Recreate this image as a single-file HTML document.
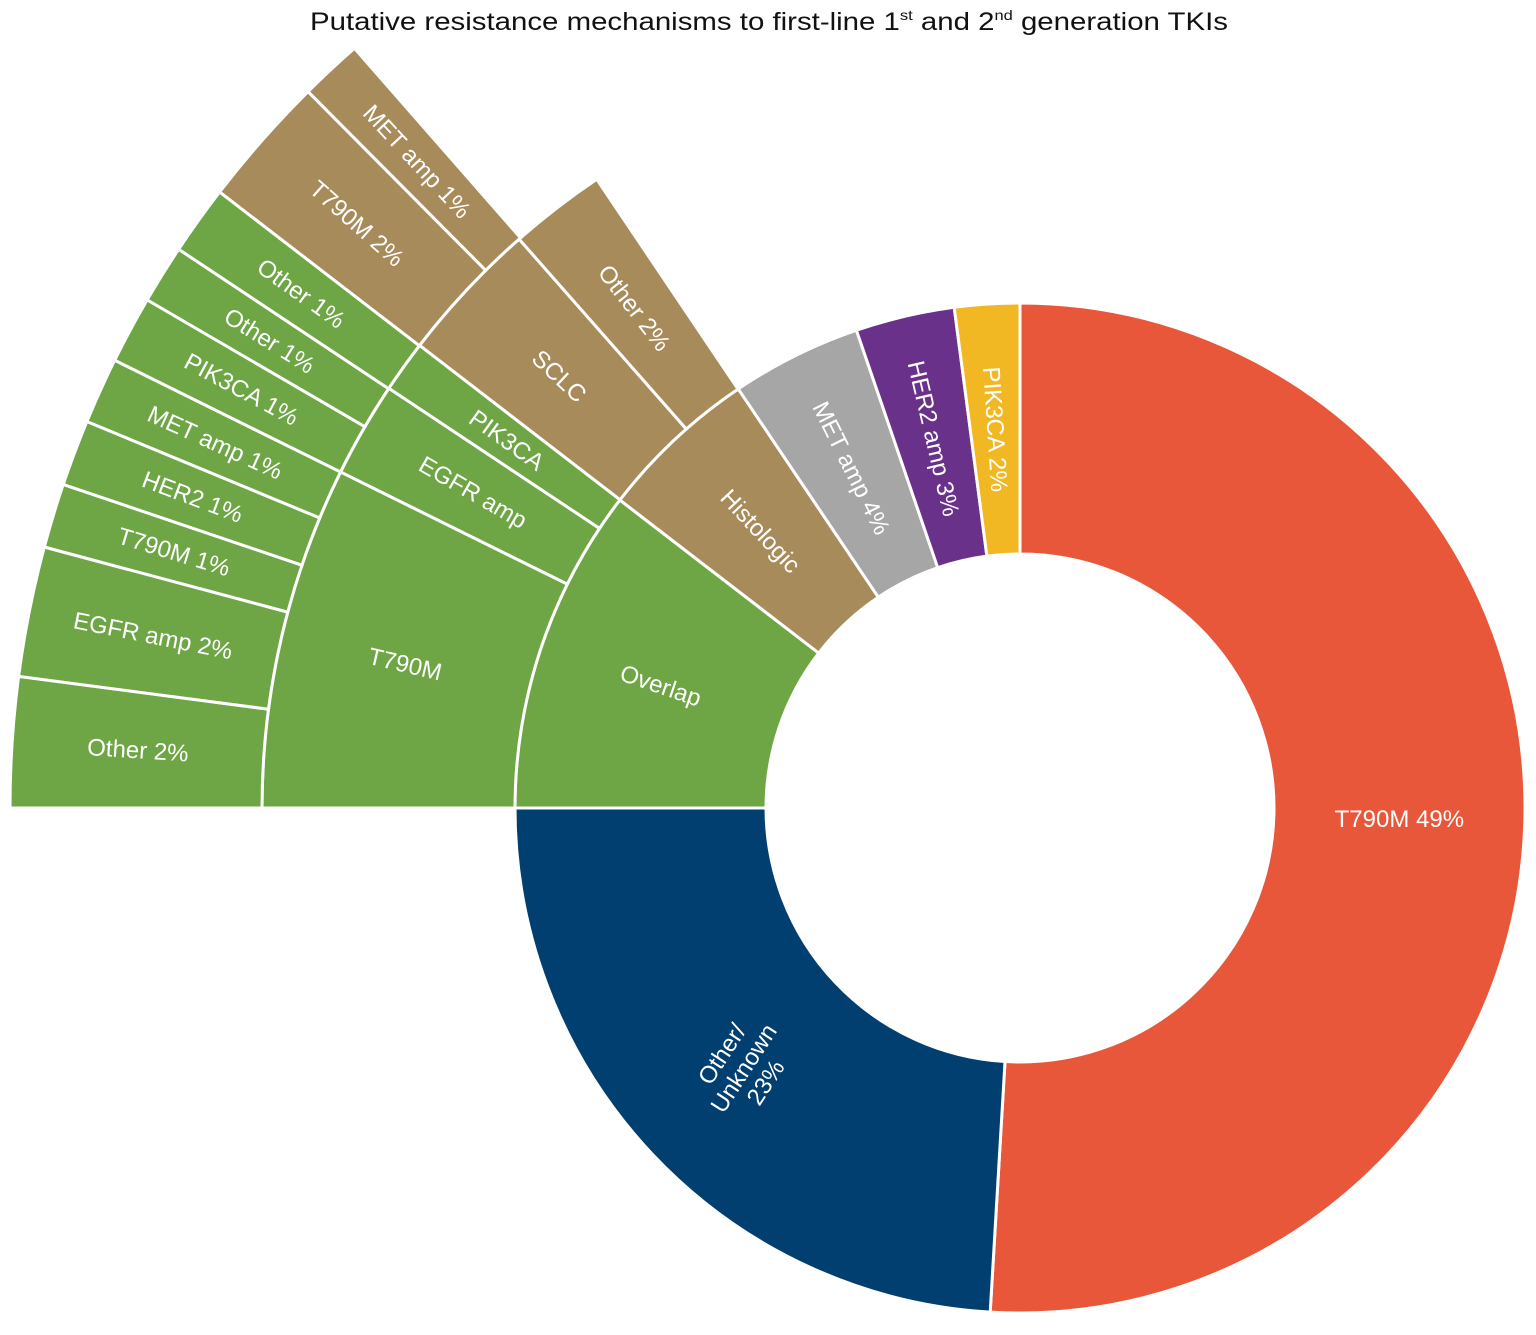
<!DOCTYPE html>
<html><head><meta charset="utf-8"><style>
html,body{margin:0;padding:0;background:#fff}
svg{display:block}
text{font-family:"Liberation Sans",sans-serif}
</style></head><body>
<svg id="chart" width="1536" height="1335" viewBox="0 0 1536 1335" xmlns="http://www.w3.org/2000/svg">
<text x="310" y="30" font-size="25" fill="#111" textLength="918" lengthAdjust="spacingAndGlyphs">Putative resistance mechanisms to first-line 1<tspan font-size="14" dy="-10">st</tspan><tspan dy="10"> and 2</tspan><tspan font-size="14" dy="-10">nd</tspan><tspan dy="10"> generation TKIs</tspan></text>
<g id="arcs"></g><g id="labels"></g>
</svg>
<script>
// Main ring (shares of full circle, %), clockwise from top
const mainNames = ["T790M 49%","Other/Unknown 23%","Overlap","Histologic","MET amp 4%","HER2 amp 3%","PIK3CA 2%"];
const mainValues = [50.94,24.06,10.44,5.14,4.17,3.17,2.08];
const mainColors = ["#E8573A","#003F6F","#6EA545","#A88B5A","#A6A6A6","#6A318B","#F2B824"];
// Second ring (shares %, starting at 270°)
const ring2Names = ["T790M","EGFR amp","PIK3CA","SCLC","Other 2%"];
const ring2Values = [7.31,2.03,1.11,3.06,2.06];
const ring2Colors = ["#6EA545","#6EA545","#6EA545","#A88B5A","#A88B5A"];
// Third ring (shares %, starting at 270°)
const ring3Names = ["Other 2%","EGFR amp 2%","T790M 1%","HER2 1%","MET amp 1%","PIK3CA 1%","Other 1%","Other 1%","T790M 2%","MET amp 1%"];
const ring3Values = [2.08,2.08,1.03,1.06,1.06,1.08,0.94,1.11,2.11,1.0];
const ring3Colors = ["#6EA545","#6EA545","#6EA545","#6EA545","#6EA545","#6EA545","#6EA545","#6EA545","#A88B5A","#A88B5A"];

const CX=1020, CY=808, R=[254,505,758,1010];
const NS="http://www.w3.org/2000/svg";
const arcs=document.getElementById('arcs'), labels=document.getElementById('labels');
function ang(share){return share*3.6;}
function pt(a,r){const t=a*Math.PI/180;return [CX+r*Math.sin(t),CY-r*Math.cos(t)];}
function arcPath(a0,a1,r0,r1){
  const p0=pt(a0,r1),p1=pt(a1,r1),p2=pt(a1,r0),p3=pt(a0,r0);
  const lg=(a1-a0)>180?1:0;
  return `M${p0[0]},${p0[1]}A${r1},${r1} 0 ${lg} 1 ${p1[0]},${p1[1]}L${p2[0]},${p2[1]}A${r0},${r0} 0 ${lg} 0 ${p3[0]},${p3[1]}Z`;
}
function slug(s){return s.toLowerCase().replace(/[^a-z0-9]+/g,'-').replace(/-$/,'');}
function drawRing(names,values,colors,start,r0,r1,ringName,rotFn){
  let a=start;
  names.forEach((n,i)=>{
    const a1=a+ang(values[i]);
    const p=document.createElementNS(NS,'path');
    p.setAttribute('d',arcPath(a,a1,r0,r1));
    p.setAttribute('fill',colors[i]);
    p.setAttribute('stroke','#fff');
    p.setAttribute('stroke-width','3');
    
    
    arcs.appendChild(p);
    const mid=(a+a1)/2, rm=(r0+r1)/2, c=pt(mid,rm);
    const t=document.createElementNS(NS,'text');
    
    
    t.setAttribute('fill','#fff');
    t.setAttribute('font-size','24');
    t.setAttribute('text-anchor','middle');
    const rot=rotFn(mid,n);
    t.setAttribute('transform',`translate(${c[0]},${c[1]}) rotate(${rot})`);
    if(n==="Other/Unknown 23%"){
      ["Other/","Unknown","23%"].forEach((l,k)=>{
        const ts=document.createElementNS(NS,'tspan');
        ts.setAttribute('x','0');ts.setAttribute('y',String(-18+k*26));
        ts.textContent=l;t.appendChild(ts);
      });
    } else {
      t.setAttribute('y','8');
      t.textContent=n;
    }
    labels.appendChild(t);
    a=a1;
  });
}
drawRing(mainNames,mainValues,mainColors,0,R[0],R[1],'inner-ring',(m,n)=>{
  if(n.startsWith('T790M 49'))return 0;
  if(n.startsWith('Other/'))return -57;
  return m-270;
});
drawRing(ring2Names,ring2Values,ring2Colors,270,R[1],R[2],'middle-ring',m=>m-270);
drawRing(ring3Names,ring3Values,ring3Colors,270,R[2],R[3],'outer-ring',m=>m-270);
</script>
</body></html>
